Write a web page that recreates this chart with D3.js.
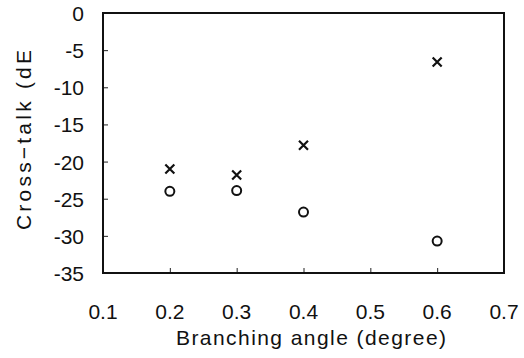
<!DOCTYPE html>
<html>
<head>
<meta charset="utf-8">
<script src="https://d3js.org/d3.v7.min.js"></script>
<style>
	body { margin: 0; background: #fff; }
	text { font-family: "Liberation Sans", Arial, sans-serif; fill: #111; }
</style>
</head>
<body>
<svg width="524" height="358"></svg>
<script>
// data
var angles = [0.2, 0.3, 0.4, 0.6];
var crossTalkX = [-21, -21.8, -17.8, -6.6];   // "x" markers
var crossTalkO = [-24, -23.9, -26.8, -30.7];  // "o" markers
var xTicks = [0.1, 0.2, 0.3, 0.4, 0.5, 0.6, 0.7];
var yTicks = [0, -5, -10, -15, -20, -25, -30, -35];

var svg = d3.select("svg");
var plotL = 103, plotR = 504, plotT = 13, plotB = 273;

var x = d3.scaleLinear().domain([0.1, 0.7]).range([plotL, plotR]);
var y = d3.scaleLinear().domain([-35, 0]).range([plotB, plotT]);

// inner ticks
svg.append("g")
	.attr("transform", "translate(0," + plotB + ")")
	.call(d3.axisBottom(x).tickValues(xTicks.slice(1, -1)).tickSizeInner(-5).tickSizeOuter(0).tickFormat(""))
	.call(function(g) { g.select(".domain").remove(); g.selectAll("line").attr("stroke", "#222"); });
svg.append("g")
	.attr("transform", "translate(" + plotL + ",0)")
	.call(d3.axisLeft(y).tickValues(yTicks.slice(1, -1)).tickSizeInner(-5).tickSizeOuter(0).tickFormat(""))
	.call(function(g) { g.select(".domain").remove(); g.selectAll("line").attr("stroke", "#222"); });

// frame
svg.append("rect")
	.attr("x", plotL).attr("y", plotT)
	.attr("width", plotR - plotL).attr("height", plotB - plotT)
	.attr("fill", "none").attr("stroke", "#111").attr("stroke-width", 2);

// tick labels
svg.append("g").selectAll("text")
	.data(xTicks).enter().append("text")
	.attr("x", function(d) { return x(d); })
	.attr("y", 319)
	.attr("text-anchor", "middle")
	.style("font-size", "21px")
	.text(function(d) { return d3.format(".1f")(d); });

svg.append("g").selectAll("text")
	.data(yTicks).enter().append("text")
	.attr("x", 84)
	.attr("y", function(d) { return y(d) + 8; })
	.attr("text-anchor", "end")
	.style("font-size", "21px")
	.text(function(d) { return d; });

// axis titles
svg.append("text")
	.attr("x", 311).attr("y", 345)
	.attr("text-anchor", "middle")
	.attr("textLength", 270)
	.style("font-size", "21px")
	.text("Branching angle (degree)");

svg.append("text")
	.attr("transform", "translate(31,140) rotate(-90)")
	.attr("text-anchor", "middle")
	.attr("textLength", 180)
	.style("font-size", "21px")
	.text("Cross\u2212talk (dE");

// markers
var pts = svg.append("g");
pts.selectAll("path")
	.data(angles).enter().append("path")
	.attr("d", function(d, i) {
		var cx = x(d), cy = y(crossTalkX[i]), r = 4.5;
		return "M" + (cx - r) + "," + (cy - r) + "L" + (cx + r) + "," + (cy + r) +
			"M" + (cx - r) + "," + (cy + r) + "L" + (cx + r) + "," + (cy - r);
	})
	.attr("stroke", "#111").attr("stroke-width", 2.2);

pts.selectAll("circle")
	.data(angles).enter().append("circle")
	.attr("cx", function(d) { return x(d); })
	.attr("cy", function(d, i) { return y(crossTalkO[i]); })
	.attr("r", 4.5)
	.attr("fill", "none").attr("stroke", "#111").attr("stroke-width", 2);
</script>
</body>
</html>
